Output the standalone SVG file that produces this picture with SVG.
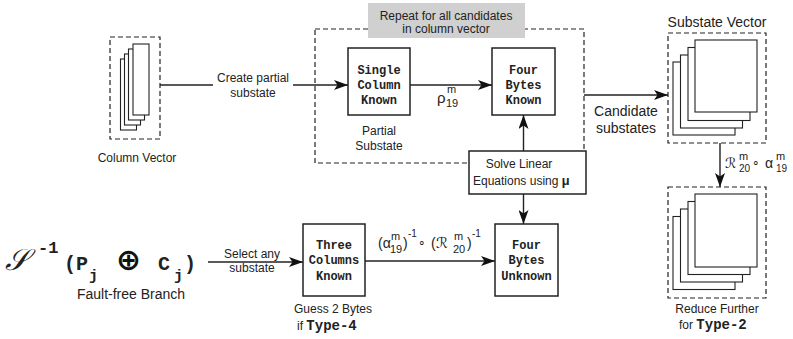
<svg xmlns="http://www.w3.org/2000/svg" width="793" height="339" viewBox="0 0 793 339">
<defs>
<style>
.box{fill:#fff;stroke:#222;stroke-width:1.5}
.sheet{fill:#fff;stroke:#222;stroke-width:1.1}
.dash{fill:none;stroke:#222;stroke-width:1.2;stroke-dasharray:5,3}
.ln{fill:none;stroke:#222;stroke-width:1.4}
.t{font-family:"Liberation Sans",Arial,sans-serif;fill:#222}
.m{font-family:"Liberation Mono","Courier New",monospace;font-weight:bold;fill:#222}
.c{text-anchor:middle}
.scr{font-family:"DejaVu Serif","DejaVu Sans",serif;font-style:italic}
</style>
<marker id="ah" markerUnits="userSpaceOnUse" markerWidth="14" markerHeight="10" refX="14" refY="5" orient="auto">
<path d="M0,0 L14,5 L0,10 L3.5,5 Z" fill="#111"/>
</marker>
</defs>
<rect width="793" height="339" fill="#fff"/>

<g id="repeat-frame">
<rect class="dash" x="315" y="29" width="269" height="134"/>
<rect x="368" y="3" width="157" height="35" fill="#d0d0d0"/>
<text class="t c" x="446" y="20" font-size="12">Repeat for all candidates</text>
<text class="t c" x="446" y="33" font-size="12">in column vector</text>
</g>

<g id="connectors">
<line class="ln" x1="160" y1="85" x2="213" y2="85"/>
<line class="ln" x1="293" y1="85" x2="348" y2="85" marker-end="url(#ah)"/>
<line class="ln" x1="410" y1="85" x2="492" y2="85" marker-end="url(#ah)"/>
<line class="ln" x1="523.5" y1="151" x2="523.5" y2="115" marker-end="url(#ah)"/>
<line class="ln" x1="523.5" y1="194" x2="523.5" y2="224" marker-end="url(#ah)"/>
<line class="ln" x1="584" y1="95" x2="668" y2="95" marker-end="url(#ah)"/>
<line class="ln" x1="720" y1="143" x2="720" y2="187" marker-end="url(#ah)"/>
<line class="ln" x1="208" y1="262" x2="303" y2="262" marker-end="url(#ah)"/>
<line class="ln" x1="365" y1="261" x2="495" y2="261" marker-end="url(#ah)"/>
</g>

<g id="labels">
<text class="t c" x="253" y="82" font-size="12">Create partial</text>
<text class="t c" x="253" y="97" font-size="12">substate</text>
<text class="t c" x="252" y="258" font-size="12">Select any</text>
<text class="t c" x="252" y="272" font-size="12">substate</text>
<text class="t c" x="626" y="116" font-size="14">Candidate</text>
<text class="t c" x="626" y="133" font-size="14">substates</text>
<text class="t" font-size="11"><tspan x="437" y="103" font-size="15">ρ</tspan><tspan x="447" y="93">m</tspan><tspan x="446" y="107">19</tspan></text>
<text class="t" font-size="11"><tspan x="378" y="248" font-size="14">(α</tspan><tspan x="391" y="240">m</tspan><tspan x="390" y="253">19</tspan><tspan x="403" y="248" font-size="14">)</tspan><tspan x="408" y="237" font-size="10">-1</tspan><tspan x="418" y="247" font-size="12">∘</tspan><tspan x="431" y="248" font-size="14">(</tspan><tspan class="scr" x="436" y="248" font-size="15">ℛ</tspan><tspan x="454" y="240">m</tspan><tspan x="453" y="253">20</tspan><tspan x="467" y="248" font-size="14">)</tspan><tspan x="472" y="237" font-size="10">-1</tspan></text>
<text class="t" font-size="10"><tspan class="scr" x="725" y="168" font-size="14">ℛ</tspan><tspan x="739" y="160" font-size="11">m</tspan><tspan x="739" y="172">20</tspan><tspan x="752" y="167" font-size="12">∘</tspan><tspan x="765" y="168" font-size="14">α</tspan><tspan x="776" y="160" font-size="11">m</tspan><tspan x="776" y="172">19</tspan></text>
</g>

<g id="column-vector">
<rect class="dash" x="110" y="37" width="50" height="102"/>
<rect class="sheet" x="120.5" y="59" width="16" height="71"/>
<rect class="sheet" x="124.5" y="54" width="16" height="71"/>
<rect class="sheet" x="128.5" y="49" width="16" height="71"/>
<rect class="sheet" x="133" y="44" width="16" height="71"/>
<text class="t c" x="137" y="162" font-size="12">Column Vector</text>
</g>

<g id="single-column-known">
<rect class="box" x="348" y="48" width="62" height="67"/>
<text class="m c" x="379" y="74" font-size="12">Single</text>
<text class="m c" x="379" y="89" font-size="12">Column</text>
<text class="m c" x="379" y="104" font-size="12">Known</text>
<text class="t c" x="379" y="135" font-size="12">Partial</text>
<text class="t c" x="379" y="150" font-size="12">Substate</text>
</g>

<g id="four-bytes-known">
<rect class="box" x="492" y="48" width="63" height="67"/>
<text class="m c" x="523.5" y="74" font-size="12">Four</text>
<text class="m c" x="523.5" y="89" font-size="12">Bytes</text>
<text class="m c" x="523.5" y="104" font-size="12">Known</text>
</g>

<g id="solve-linear">
<rect class="box" x="469" y="151" width="117" height="43"/>
<text class="t c" x="519" y="168" font-size="12">Solve Linear</text>
<text class="t" x="473" y="185" font-size="12">Equations using <tspan class="m" font-size="13">µ</tspan></text>
</g>

<g id="substate-vector">
<text class="t c" x="717" y="27" font-size="14">Substate Vector</text>
<rect class="dash" x="668" y="33" width="98" height="110"/>
<rect class="sheet" x="673" y="62" width="62" height="73"/>
<rect class="sheet" x="680.5" y="55" width="62" height="73"/>
<rect class="sheet" x="688" y="47.5" width="62" height="73"/>
<rect class="sheet" x="695" y="40" width="62" height="72"/>
</g>

<g id="reduced-vector">
<rect class="dash" x="668" y="187" width="98" height="111"/>
<rect class="sheet" x="673" y="216.5" width="62" height="73"/>
<rect class="sheet" x="680.5" y="209" width="62" height="73"/>
<rect class="sheet" x="688" y="201.5" width="62" height="73"/>
<rect class="sheet" x="695" y="194" width="62" height="73"/>
<text class="t c" x="717" y="313" font-size="12">Reduce Further</text>
<text class="t" x="679" y="329" font-size="12">for <tspan class="m" font-size="14">Type-2</tspan></text>
</g>

<g id="fault-free">
<text x="5" y="270" font-size="30" font-family="DejaVu Serif, Noto Sans, serif" font-style="italic" fill="#222">𝒮</text>
<text class="m" x="38" y="253" font-size="17">-1</text>
<text class="m" x="64" y="270" font-size="20">(P</text>
<text class="m" x="89" y="280" font-size="15">j</text>
<text x="116" y="270" font-size="30" font-family="DejaVu Sans, sans-serif" font-weight="bold" fill="#111">⊕</text>
<text class="m" x="158" y="270" font-size="20">C</text>
<text class="m" x="174" y="280" font-size="15">j</text>
<text class="m" x="184" y="270" font-size="20">)</text>
<text class="t c" x="131" y="299" font-size="14">Fault-free Branch</text>
</g>

<g id="three-columns-known">
<rect class="box" x="303" y="224" width="62" height="72"/>
<text class="m c" x="334" y="249" font-size="12">Three</text>
<text class="m c" x="334" y="264" font-size="12">Columns</text>
<text class="m c" x="334" y="280" font-size="12">Known</text>
<text class="t c" x="333" y="313" font-size="12">Guess 2 Bytes</text>
<text class="t" x="297" y="330" font-size="12">if <tspan class="m" font-size="14">Type-4</tspan></text>
</g>

<g id="four-bytes-unknown">
<rect class="box" x="495" y="224" width="63" height="72"/>
<text class="m c" x="526.5" y="249" font-size="12">Four</text>
<text class="m c" x="526.5" y="264" font-size="12">Bytes</text>
<text class="m c" x="526.5" y="280" font-size="12">Unknown</text>
</g>
</svg>
